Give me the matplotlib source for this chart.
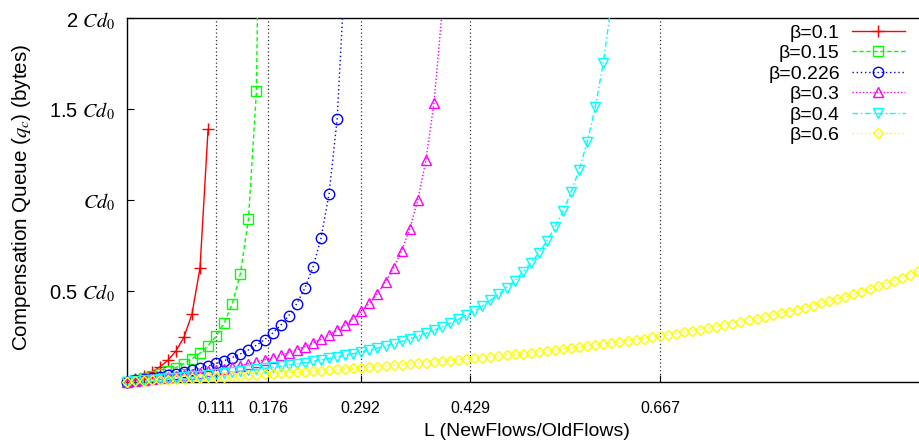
import numpy as np
import matplotlib
matplotlib.use('Agg')
import matplotlib.pyplot as plt
from matplotlib.lines import Line2D

plt.rcParams['font.family'] = ['Liberation Sans', 'DejaVu Sans']
plt.rcParams['mathtext.fontset'] = 'stix'

# L is sampled at 100 evenly spaced points over [0, 1];
# each curve lists q_c (in units of C*d0) until it leaves the top of the plot
L_grid = np.linspace(0, 1, 100)

q_b010 = [0, 0.0139, 0.0309, 0.0521, 0.0794, 0.1157, 0.1667, 0.2431, 0.3704, 0.625,
          1.3889]
q_b015 = [0, 0.0089, 0.0190, 0.0305, 0.0437, 0.0590, 0.0769, 0.0983, 0.1242, 0.1563,
          0.1969, 0.25, 0.3226, 0.4276, 0.5932, 0.8929, 1.6, 5.3125]
q_b0226 = [0, 0.0058, 0.0120, 0.0187, 0.0259, 0.0338, 0.0423, 0.0516, 0.0618, 0.0730,
           0.0854, 0.0992, 0.1146, 0.1320, 0.1517, 0.1742, 0.2002, 0.2306, 0.2665, 0.3097,
           0.3626, 0.4289, 0.5144, 0.6288, 0.7899, 1.0334, 1.4444, 2.2866, 4.9858]
q_b030 = [0, 0.0043, 0.0088, 0.0136, 0.0186, 0.0239, 0.0294, 0.0353, 0.0415, 0.0481,
          0.0551, 0.0625, 0.0704, 0.0789, 0.0879, 0.0977, 0.1081, 0.1194, 0.1316, 0.1448,
          0.1592, 0.175, 0.1923, 0.2114, 0.2326, 0.2561, 0.2826, 0.3125, 0.3465, 0.3856,
          0.4310, 0.4844, 0.5479, 0.625, 0.7203, 0.8413, 1.0, 1.2171, 1.5323, 2.0313,
          2.9412, 5.125]
q_b040 = [0, 0.0032, 0.0065, 0.0099, 0.0134, 0.0171, 0.0208, 0.0247, 0.0287, 0.0329,
          0.0372, 0.0417, 0.0463, 0.0511, 0.0561, 0.0613, 0.0667, 0.0723, 0.0781, 0.0842,
          0.0906, 0.0972, 0.1042, 0.1114, 0.1190, 0.1270, 0.1354, 0.1442, 0.1535, 0.1633,
          0.1736, 0.1845, 0.1961, 0.2083, 0.2214, 0.2352, 0.25, 0.2658, 0.2827, 0.3009,
          0.3205, 0.3417, 0.3646, 0.3895, 0.4167, 0.4464, 0.4792, 0.5154, 0.5556, 0.6005,
          0.6510, 0.7083, 0.7738, 0.8494, 0.9375, 1.0417, 1.1667, 1.3194, 1.5104, 1.7560,
          2.0833, 2.5417]
q_b060 = [0, 0.0021, 0.0043, 0.0064, 0.0087, 0.0109, 0.0132, 0.0155, 0.0178, 0.0202,
          0.0226, 0.025, 0.0275, 0.0300, 0.0325, 0.0351, 0.0377, 0.0404, 0.0431, 0.0458,
          0.0486, 0.0515, 0.0543, 0.0573, 0.0602, 0.0633, 0.0663, 0.0694, 0.0726, 0.0758,
          0.0791, 0.0824, 0.0858, 0.0893, 0.0928, 0.0964, 0.1, 0.1037, 0.1075, 0.1113,
          0.1152, 0.1192, 0.1232, 0.1274, 0.1316, 0.1359, 0.1402, 0.1447, 0.1493, 0.1539,
          0.1586, 0.1635, 0.1684, 0.1734, 0.1786, 0.1838, 0.1892, 0.1947, 0.2003, 0.2060,
          0.2119, 0.2179, 0.2240, 0.2303, 0.2367, 0.2433, 0.25, 0.2569, 0.2640, 0.2712,
          0.2787, 0.2863, 0.2941, 0.3022, 0.3104, 0.3189, 0.3276, 0.3365, 0.3457, 0.3552,
          0.3650, 0.375, 0.3853, 0.3960, 0.4070, 0.4183, 0.43, 0.4421, 0.4545, 0.4674,
          0.4808, 0.4946, 0.5089, 0.5236, 0.5390, 0.5549, 0.5714, 0.5886, 0.6064, 0.625]

labels = ['β=0.1', 'β=0.15', 'β=0.226', 'β=0.3', 'β=0.4', 'β=0.6']
series = [q_b010, q_b015, q_b0226, q_b030, q_b040, q_b060]

# asymptotes L = beta/(1-beta)
xticks = [0.111, 0.176, 0.292, 0.429, 0.667]
xtick_labels = ['0.111', '0.176', '0.292', '0.429', '0.667']
yticks = [0.5, 1.0, 1.5, 2.0]
ytick_labels = [r'0.5 $\mathit{Cd}_{\mathit{0}}$', r'$\mathit{Cd}_{\mathit{0}}$',
                r'1.5 $\mathit{Cd}_{\mathit{0}}$', r'2 $\mathit{Cd}_{\mathit{0}}$']

styles = [
    dict(color='#ff0000', ls='-', marker='+', ms=9),
    dict(color='#00ff00', ls=(0, (3, 2)), marker='s', ms=7),
    dict(color='#0000ff', ls=(0, (1, 2)), marker='o', ms=7.5),
    dict(color='#ff00ff', ls=(0, (1, 1.5)), marker='^', ms=7.5),
    dict(color='#00ffff', ls=(0, (4, 2, 1, 2)), marker='v', ms=7.5),
    dict(color='#ffff00', ls=(0, (1, 2)), marker='D', ms=5.5),
]

W, H = 919, 443
fig = plt.figure(figsize=(W / 100, H / 100), dpi=100)
# plot box runs from L=0 at x=127.4 to L=1 at x=926 (past the right edge of the canvas)
x0, x1, ytop, ybot = 127.4, 926.0, 18.3, 381.5
ax = fig.add_axes([x0 / W, 1 - ybot / H, (x1 - x0) / W, (ybot - ytop) / H])
ax.set_xlim(0, 1)
ax.set_ylim(0, 2)

handles = []
for q, lab, st in zip(series, labels, styles):
    q = np.array(q, float)
    L = L_grid[:len(q)]
    ax.plot(L, q, color=st['color'], ls=st['ls'], lw=1.0, zorder=3)
    vis = q <= 2
    ax.plot(L[vis], q[vis], ls='none', marker=st['marker'], ms=st['ms'], mew=1.0,
            mec=st['color'], mfc='none', clip_on=False, zorder=4)
    handles.append(Line2D([], [], color=st['color'], ls=st['ls'], lw=1.0,
                          marker=st['marker'], ms=st['ms'], mew=1.0, mfc='none',
                          label=lab))

for xt in xticks:
    ax.axvline(xt, color='0.2', ls=(0, (1, 2)), lw=0.9, zorder=1)

ax.set_xticks(xticks, xtick_labels)
ax.set_yticks(yticks, ytick_labels)
ax.tick_params(axis='x', direction='in', length=5, width=0.8, pad=14, labelsize=11.5)
ax.tick_params(axis='y', direction='in', length=5, width=0.8, pad=9, labelsize=14.5)
for s in ['left', 'bottom', 'top']:
    ax.spines[s].set_linewidth(1.0)
ax.spines['right'].set_visible(False)

fig.text(526.7 / W, 1 - 432 / H, 'L (NewFlows/OldFlows)', fontsize=14,
         ha='center', va='center')
fig.text(22 / W, 1 - 197 / H, r'Compensation Queue ($q_c$) (bytes)', fontsize=14.9,
         rotation=90, ha='center', va='center')

ax.legend(handles=handles, loc='upper right',
          bbox_to_anchor=(905 / W, 1 - 24 / H), bbox_transform=fig.transFigure,
          markerfirst=False, frameon=False, fontsize=14,
          handlelength=2.73, handletextpad=0.62, labelspacing=0.15,
          borderpad=0, borderaxespad=0)

fig.savefig('out.png', dpi=100)
